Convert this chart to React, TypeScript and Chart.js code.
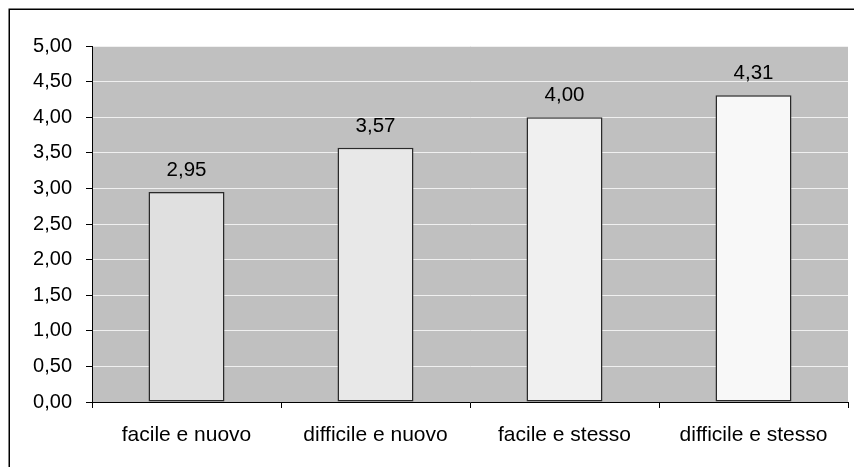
import React, { useEffect, useRef } from "react";
import { Chart, registerables } from "chart.js";

Chart.register(...registerables);

const categories = ["facile e nuovo", "difficile e nuovo", "facile e stesso", "difficile e stesso"];
const values = [2.95, 3.57, 4.0, 4.31];
const barColors = ["#e0e0e0", "#e8e8e8", "#f0f0f0", "#f8f8f8"];
const yMin = 0;
const yMax = 5;
const yStep = 0.5;

const fmt = (v: number) => v.toFixed(2).replace(".", ",");
const FONT = "'Liberation Sans', Arial, sans-serif";

const framePlugin = {
  id: "frame",
  beforeDraw(chart: any) {
    const { ctx, chartArea } = chart;
    ctx.save();
    ctx.fillStyle = "#ffffff";
    ctx.fillRect(0, 0, chart.width, chart.height);
    ctx.strokeStyle = "#000000";
    ctx.lineWidth = 1.5;
    ctx.strokeRect(9.25, 9.25, 900, 500);
    ctx.fillStyle = "#c0c0c0";
    ctx.fillRect(chartArea.left, chartArea.top, chartArea.right - chartArea.left, chartArea.bottom - chartArea.top);
    ctx.restore();
  },
  afterDatasetsDraw(chart: any) {
    const { ctx } = chart;
    const meta = chart.getDatasetMeta(0);
    ctx.save();
    ctx.fillStyle = "#000000";
    ctx.font = `20.5px ${FONT}`;
    ctx.textAlign = "center";
    ctx.textBaseline = "alphabetic";
    meta.data.forEach((el: any, i: number) => {
      ctx.fillText(fmt(values[i]), el.x, el.y - 16);
    });
    ctx.restore();
  },
};

export default function App() {
  const ref = useRef<HTMLCanvasElement | null>(null);
  useEffect(() => {
    if (!ref.current) return;
    const chart = new Chart(ref.current, {
      type: "bar",
      data: {
        labels: categories,
        datasets: [
          {
            data: values,
            backgroundColor: barColors,
            borderColor: "#2a2a2a",
            borderWidth: 1.5,
            borderSkipped: false,
            barPercentage: 0.402,
            categoryPercentage: 1,
          },
        ],
      },
      options: {
        responsive: false,
        animation: false,
        events: [],
        layout: { padding: { left: 0, top: 46, right: 6, bottom: 0 } },
        plugins: { legend: { display: false }, tooltip: { enabled: false } },
        scales: {
          x: {
            grid: {
              offset: true,
              drawOnChartArea: false,
              tickLength: 6,
              tickColor: "#000000",
            },
            border: { color: "#000000", width: 1 },
            ticks: { color: "#000000", font: { family: FONT, size: 21 }, padding: 15, maxRotation: 0 },
            afterFit: (s: any) => {
              s.height = 65;
            },
          },
          y: {
            min: yMin,
            max: yMax,
            grid: { color: "#f0f0f0", tickLength: 6, tickColor: "#000000" },
            border: { color: "#000000", width: 1 },
            ticks: {
              stepSize: yStep,
              color: "#000000",
              font: { family: FONT, size: 20 },
              padding: 14,
              callback: (v: any) => fmt(Number(v)),
            },
            afterFit: (s: any) => {
              s.width = 92;
            },
          },
        },
      },
      plugins: [framePlugin],
    });
    return () => chart.destroy();
  }, []);
  return (
    <div style={{ position: "fixed", left: 0, top: 0, width: 854, height: 467 }}>
      <canvas ref={ref} width={854} height={467} style={{ display: "block" }} />
    </div>
  );
}
